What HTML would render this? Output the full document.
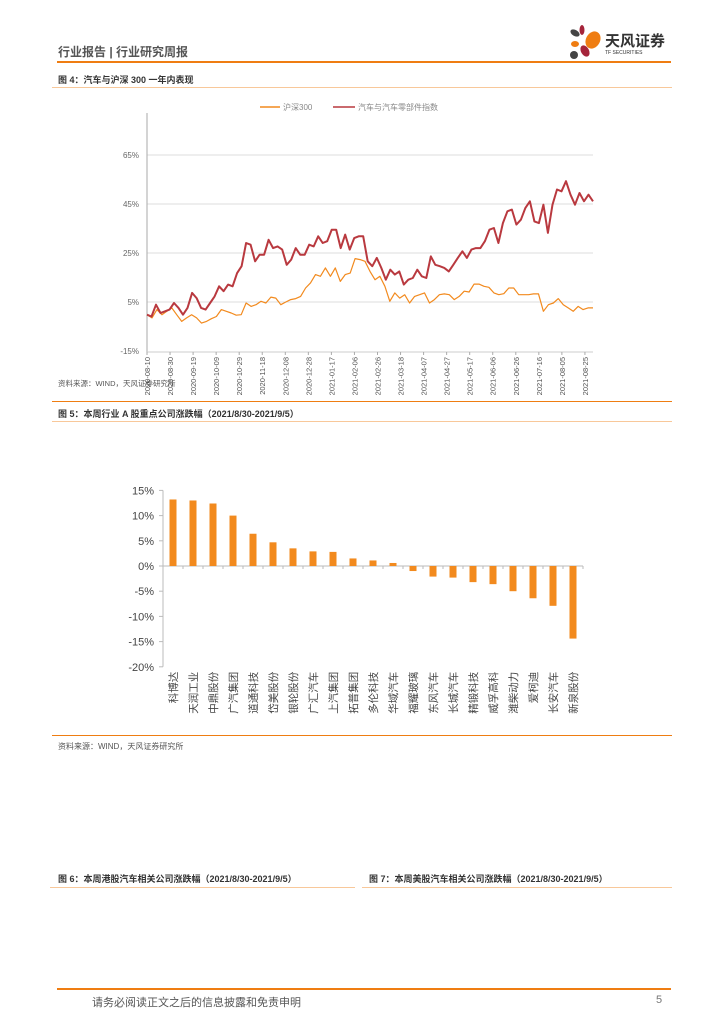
<!DOCTYPE html>
<html><head><meta charset="utf-8"><style>
body{margin:0;width:724px;height:1024px;background:#fff;position:relative;overflow:hidden;font-family:"Liberation Sans","Noto Sans CJK SC",sans-serif;color:#333}
.a{position:absolute;white-space:nowrap}
.t{font-size:9px;font-weight:bold;color:#333}
.ln{position:absolute;height:1px;background:#f8c89a}
</style></head><body>
<div class="a" style="left:58px;top:43px;font-size:12px;color:#555;font-weight:bold">行业报告 | 行业研究周报</div>
<div class="a" style="left:565px;top:24px;width:110px;height:36px">
<svg width="110" height="36"><ellipse cx="10" cy="9" rx="5" ry="3" fill="#444" transform="rotate(30 10 9)"/><ellipse cx="17" cy="6" rx="2.5" ry="5" fill="#a5243a"/><ellipse cx="28" cy="16" rx="7" ry="9" fill="#ef7d12" transform="rotate(30 28 16)"/><ellipse cx="10" cy="20" rx="4" ry="3" fill="#ef7d12"/><ellipse cx="20" cy="27" rx="4" ry="6" fill="#a5243a" transform="rotate(-30 20 27)"/><ellipse cx="9" cy="31" rx="4" ry="4" fill="#444"/></svg>
<div class="a" style="left:40px;top:6px;font-size:15px;font-weight:bold;color:#333">天风证券</div>
<div class="a" style="left:40px;top:26px;font-size:5px;color:#333">TF SECURITIES</div></div>
<div class="a" style="left:57px;top:61px;width:614px;height:2px;background:#ef7d12"></div>

<div class="a t" style="left:58px;top:73px">图 4：汽车与沪深 300 一年内表现</div>
<div class="ln" style="left:52px;top:87px;width:620px"></div>

<svg class="a" id="lc" style="left:0;top:90px" width="724" height="320"></svg>

<div class="a" style="left:58px;top:378px;font-size:7.5px;color:#555">资料来源：WIND，天风证券研究所</div>
<div class="a" style="left:52px;top:401px;width:620px;height:1px;background:#ef7d12"></div>
<div class="a t" style="left:58px;top:407px">图 5：本周行业 A 股重点公司涨跌幅（2021/8/30-2021/9/5）</div>
<div class="ln" style="left:52px;top:421px;width:620px"></div>

<svg class="a" id="bc" style="left:0;top:470px" width="724" height="260"></svg>

<div class="a" style="left:52px;top:735px;width:620px;height:1px;background:#ef7d12"></div>
<div class="a" style="left:58px;top:741px;font-size:8px;color:#555">资料来源：WIND，天风证券研究所</div>

<div class="a t" style="left:58px;top:872px">图 6：本周港股汽车相关公司涨跌幅（2021/8/30-2021/9/5）</div>
<div class="ln" style="left:50px;top:887px;width:305px"></div>
<div class="a t" style="left:369px;top:872px">图 7：本周美股汽车相关公司涨跌幅（2021/8/30-2021/9/5）</div>
<div class="ln" style="left:362px;top:887px;width:310px"></div>

<div class="a" style="left:57px;top:988px;width:614px;height:2px;background:#ef7d12"></div>
<div class="a" style="left:92px;top:994px;font-size:11px;color:#555">请务必阅读正文之后的信息披露和免责申明</div>
<div class="a" style="left:656px;top:994px;font-size:11px;color:#777">5</div>

<script>
const hs300=[-0.2,-1.5,1.9,-0.2,1.2,2.6,-0.2,-2.9,-1.5,-0.2,-1.5,-3.6,-2.9,-1.8,-0.9,1.9,1.2,0.5,-0.4,-0.2,4.6,3.2,3.9,5.3,4.6,7.0,6.6,3.9,5.0,6.0,6.4,7.3,10.7,12.8,16.2,15.5,18.9,15.5,18.9,13.4,16.2,16.8,22.7,22.3,21.6,17.5,14.1,15.5,11.4,5.3,8.7,6.6,8.0,4.6,7.3,8.0,8.7,4.6,6.0,8.0,8.3,8.0,6.0,7.3,9.4,9.1,12.3,12.3,11.4,11.0,8.7,8.0,8.4,10.7,10.7,8.0,8.0,8.0,8.3,8.3,1.2,3.9,4.6,6.4,3.9,2.6,1.2,3.2,1.9,2.6,2.6];
const autoIdx=[-0.2,-0.9,3.9,0.5,1.2,1.9,4.6,2.6,-0.2,2.6,8.7,6.6,2.6,1.9,4.6,7.3,11.4,9.4,12.1,11.4,16.8,19.6,29.1,28.4,21.6,24.3,24.3,30.4,27.0,27.7,26.4,20.2,22.3,27.0,24.3,24.3,28.4,27.7,31.8,29.1,29.8,34.5,34.5,27.0,32.5,26.4,31.1,31.8,31.8,21.6,19.6,23.0,18.9,14.1,18.2,16.2,17.5,12.1,14.1,14.8,18.2,15.5,14.8,23.6,20.2,19.6,18.9,17.5,20.2,23.0,25.7,23.0,26.4,27.0,27.0,29.8,34.5,35.2,29.1,37.2,42.0,42.7,36.6,38.6,43.4,46.1,37.9,37.2,44.7,33.2,44.7,50.9,50.2,54.3,48.8,44.7,49.5,46.1,48.8,46.1];
const yTicks=[65,45,25,5,-15];
const dateLabels=["2020-08-10","2020-08-30","2020-09-19","2020-10-09","2020-10-29","2020-11-18","2020-12-08","2020-12-28","2021-01-17","2021-02-06","2021-02-26","2021-03-18","2021-04-07","2021-04-27","2021-05-17","2021-06-06","2021-06-26","2021-07-16","2021-08-05","2021-08-25"];
const barCats=["科博达","天润工业","中鼎股份","广汽集团","道通科技","岱美股份","银轮股份","广汇汽车","上汽集团","拓普集团","多伦科技","华域汽车","福耀玻璃","东风汽车","长城汽车","精锻科技","威孚高科","潍柴动力","爱柯迪","长安汽车","新泉股份"];
const barVals=[13.2,13.0,12.4,10.0,6.4,4.7,3.5,2.9,2.8,1.5,1.1,0.6,-1.0,-2.1,-2.3,-3.2,-3.6,-5.0,-6.4,-7.9,-14.4];
const barTicks=[15,10,5,0,-5,-10,-15,-20];
const barTickLabels=["15%","10%","5%","0%","-5%","-10%","-15%","-20%"];
const NS="http://www.w3.org/2000/svg";
function mk(svg,tag,at,txt){const e=document.createElementNS(NS,tag);for(const k in at)e.setAttribute(k,at[k]);if(txt!=null)e.textContent=txt;svg.appendChild(e);return e;}
(function(){
const s=document.getElementById('lc');
const x0=147,x1=593;const yv=v=>(302-90)+(5-v)*2.45;
const xd=i=>x0+(x1-x0)*i/(dateLabels.length-1+0.35);
yTicks.forEach(t=>{
  if(t!==-15){const g=mk(s,'line',{x1:x0,x2:x1,y1:yv(t),y2:yv(t),stroke:'#ddd','stroke-width':1});
  }
  const l=mk(s,'text',{x:x0-8,y:yv(t)+3,'text-anchor':'end','font-size':8,fill:'#666'},t+'%');
  
});
mk(s,'line',{x1:x0,x2:x0,y1:23,y2:yv(-15.4),stroke:'#aaa'});
mk(s,'line',{x1:x0,x2:x1,y1:yv(-15.4),y2:yv(-15.4),stroke:'#ccc'});
dateLabels.forEach((d,i)=>{const x=xd(i);
  mk(s,'line',{x1:x,x2:x,y1:yv(-15.4),y2:yv(-15.4)+3,stroke:'#aaa'});
  const t=mk(s,'text',{x:0,y:0,'font-size':7.5,fill:'#555','text-anchor':'end',transform:`translate(${x+3},${yv(-15.4)+5}) rotate(-90)`},d);
  
});
function path(arr,col,w,name){const n=arr.length;let d='';arr.forEach((v,i)=>{d+=(i?'L':'M')+(x0+(x1-x0)*i/(n-1)).toFixed(1)+','+yv(v).toFixed(1);});
  const p=mk(s,'path',{d:d,fill:'none',stroke:col,'stroke-width':w,'stroke-linejoin':'round'});
  }
path(hs300,'#f28a1e',1.2,'hs300-line');
path(autoIdx,'#b9393f',2,'auto-index-line');
mk(s,'line',{x1:260,x2:280,y1:17,y2:17,stroke:'#f28a1e','stroke-width':1.5});
const lt1=mk(s,'text',{x:283,y:20,'font-size':8,fill:'#888'},'沪深300');

mk(s,'line',{x1:333,x2:355,y1:17,y2:17,stroke:'#b9393f','stroke-width':1.5});
const lt2=mk(s,'text',{x:358,y:20,'font-size':8,fill:'#888'},'汽车与汽车零部件指数');

})();
(function(){
const s=document.getElementById('bc');
const x0=163,x1=583,zeroY=566-470,k=25.2/5;const yv=v=>zeroY-v*k;
mk(s,'line',{x1:x0,x2:x0,y1:yv(15),y2:yv(-20),stroke:'#bbb'});
barTicks.forEach((t,i)=>{mk(s,'line',{x1:x0-4,x2:x0,y1:yv(t),y2:yv(t),stroke:'#bbb'});
  const l=mk(s,'text',{x:x0-9,y:yv(t)+4,'text-anchor':'end','font-size':11,fill:'#444'},barTickLabels[i]);
  });
mk(s,'line',{x1:x0,x2:x1,y1:yv(0),y2:yv(0),stroke:'#bbb'});
const n=barCats.length,bw=(x1-x0)/n;
barCats.forEach((c,i)=>{const cx=x0+bw*(i+0.5),v=barVals[i];
  mk(s,'line',{x1:x0+bw*(i+1),x2:x0+bw*(i+1),y1:yv(0),y2:yv(0)+3,stroke:'#bbb'});
  const r=mk(s,'rect',{x:cx-3.5,y:Math.min(yv(v),yv(0)),width:7,height:Math.abs(yv(v)-yv(0)),fill:'#f28a1e'});
  
  const t=mk(s,'text',{x:0,y:0,'font-size':10.5,fill:'#444','text-anchor':'end',transform:`translate(${cx+4},${yv(-20)+5}) rotate(-90)`},c);
  
});
})();
</script>
</body></html>
